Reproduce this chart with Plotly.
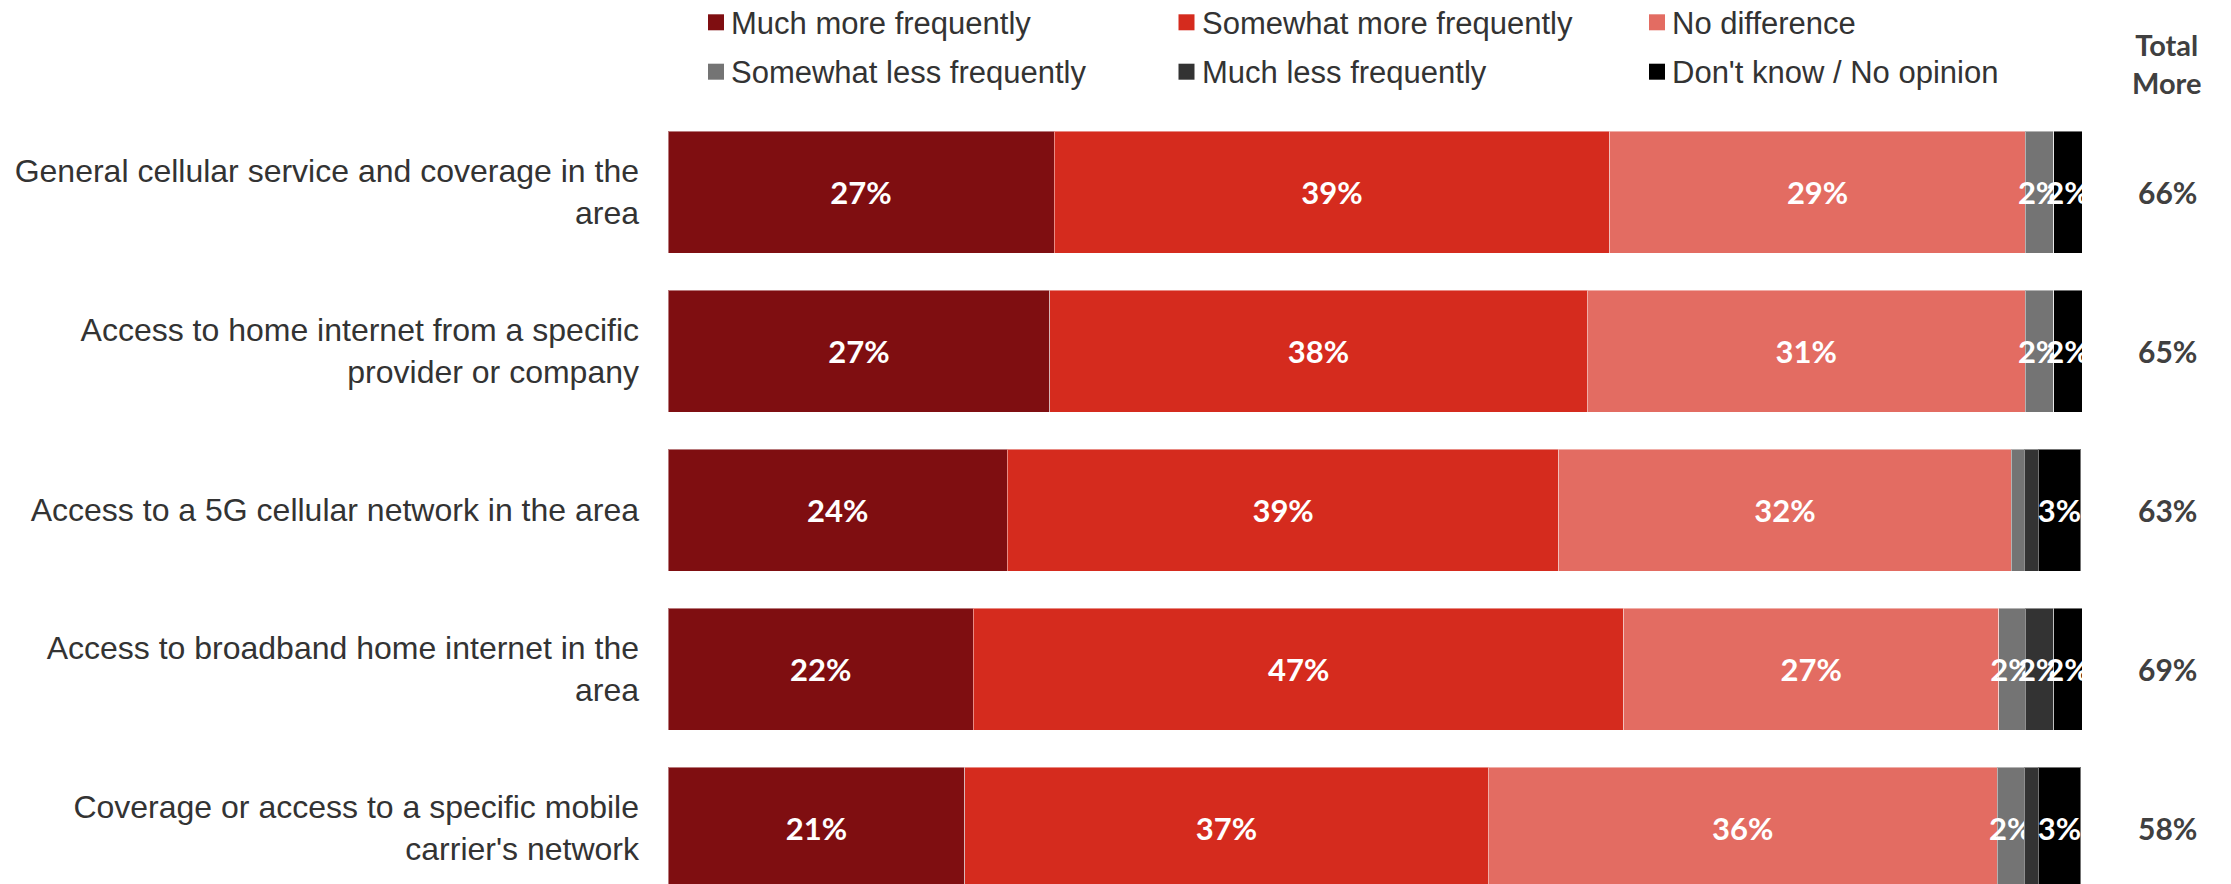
import plotly.graph_objects as go

categories = [
    "General cellular service and coverage in the<br>area",
    "Access to home internet from a specific<br>provider or company",
    "Access to a 5G cellular network in the area",
    "Access to broadband home internet in the<br>area",
    "Coverage or access to a specific mobile<br>carrier's network",
]

series_names = [
    "Much more frequently",
    "Somewhat more frequently",
    "No difference",
    "Somewhat less frequently",
    "Much less frequently",
    "Don't know / No opinion",
]

much_more = [27.3, 27.0, 24.0, 21.6, 21.0]
somewhat_more = [39.3, 38.0, 39.0, 46.0, 37.0]
no_difference = [29.4, 31.0, 32.0, 26.5, 36.0]
somewhat_less = [2.0, 2.0, 0.9, 1.9, 1.9]
much_less = [0.0, 0.0, 1.0, 2.0, 1.0]
dont_know = [2.0, 2.0, 3.0, 2.0, 3.0]

much_more_lbl = ["27%", "27%", "24%", "22%", "21%"]
somewhat_more_lbl = ["39%", "38%", "39%", "47%", "37%"]
no_difference_lbl = ["29%", "31%", "32%", "27%", "36%"]
somewhat_less_lbl = ["2%", "2%", "", "2%", "2%"]
much_less_lbl = ["", "", "", "2%", ""]
dont_know_lbl = ["2%", "2%", "3%", "2%", "3%"]

total_more = ["66%", "65%", "63%", "69%", "58%"]

colors = ["#7F0E11", "#D52B1E", "#E36C62", "#747474", "#333333", "#000000"]

values = [much_more, somewhat_more, no_difference, somewhat_less, much_less, dont_know]
labels = [much_more_lbl, somewhat_more_lbl, no_difference_lbl, somewhat_less_lbl, much_less_lbl, dont_know_lbl]

# page body margin is removed by the post script, so figure coords == screen coords
OFF = 0
W, H = 2231, 884
L, T, PW, PH = 668 - OFF, 110 - OFF, 1414, 774


def px(sx):  # screen x -> paper x
    return (sx - OFF - L) / PW


def py(sy):  # screen y -> paper y
    return (T + PH - (sy - OFF)) / PH


fig = go.Figure()
for name, vals, lbls, col in zip(series_names, values, labels, colors):
    fig.add_trace(go.Bar(
        y=categories, x=vals, name=name, orientation="h",
        marker=dict(color=col, line=dict(color="rgba(255,255,255,0.45)", width=1)),
        text=lbls, textposition="inside", insidetextanchor="middle", textangle=0,
        textfont=dict(family="Lato", size=31, color="white", weight="bold"),
        hoverinfo="skip", showlegend=False,
    ))

# legend (2 rows x 3 columns)
col_x = [716, 1186.5, 1657]
row_y = [22.3, 71.7]
for i, (name, col) in enumerate(zip(series_names, colors)):
    cx = col_x[i % 3]
    cy = row_y[i // 3]
    fig.add_shape(type="rect", xref="paper", yref="paper",
                  x0=px(cx - 8), x1=px(cx + 8), y0=py(cy + 8), y1=py(cy - 8),
                  fillcolor=col, line=dict(width=0))
    fig.add_annotation(x=px(cx + 13), xref="paper", y=py(cy + 1), yref="paper",
                       xanchor="left", yanchor="middle", text=name, showarrow=False,
                       font=dict(family="Liberation Sans, Arial", size=31, color="#333333"))

for cat, tm in zip(categories, total_more):
    fig.add_annotation(x=px(2167), xref="paper", y=cat, yref="y", text=tm, showarrow=False,
                       font=dict(family="Lato", size=30, color="#404040", weight="bold"),
                       xanchor="center", yanchor="middle")

fig.add_annotation(x=px(2167), xref="paper", y=py(64), yref="paper",
                   xanchor="center", yanchor="middle",
                   text="Total<br>More", showarrow=False, align="center",
                   font=dict(family="Lato", size=29, color="#404040", weight="bold"))

fig.update_layout(
    width=W, height=H,
    barmode="stack", bargap=0.233,
    paper_bgcolor="white", plot_bgcolor="white",
    margin=dict(l=L, r=W - L - PW, t=T, b=H - T - PH),
    uniformtext=dict(minsize=31, mode="show"),
    font=dict(family="Liberation Sans, Arial", size=32, color="#333333"),
    showlegend=False,
    xaxis=dict(range=[0, 100], visible=False, fixedrange=True),
    yaxis=dict(range=[4.352, -0.516], showgrid=False, zeroline=False, showline=False,
               ticks="", ticklabelstandoff=28, automargin=False,
               tickfont=dict(size=32, color="#333333"), fixedrange=True),
)

fig.write_html("out.html", config={"displayModeBar": False},
               post_script="document.body.style.margin='0';document.body.style.overflow='hidden';")
